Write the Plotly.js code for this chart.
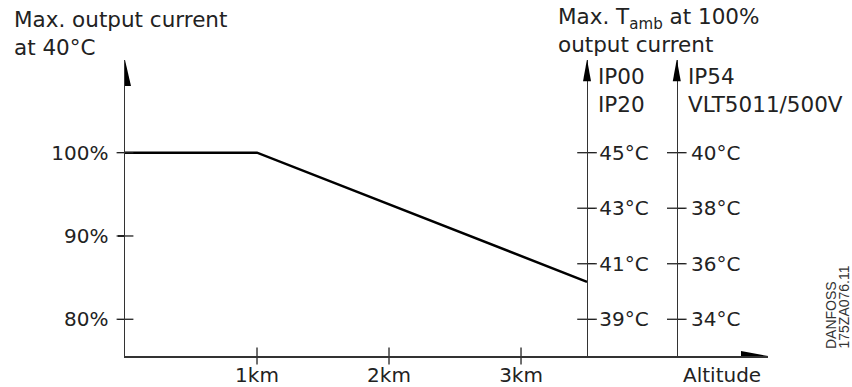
<!DOCTYPE html>
<html>
<head>
<meta charset="utf-8">
<script src="https://cdn.plot.ly/plotly-3.0.1.min.js"></script>
<style>
html,body{margin:0;padding:0;background:#fff;}
#chart{width:852px;height:387px;}
</style>
</head>
<body>
<div id="chart"></div>
<script>
// ---- data ----
const altitudeKm = [0, 1, 3.5];
const maxCurrentPct = [100, 100, 84.5];
const kmTicks = [1, 2, 3];
const kmLabels = ['1km', '2km', '3km'];
const pctTicks = [80, 90, 100];
const pctLabels = ['80%', '90%', '100%'];
const ip00Temps = [39, 41, 43, 45];
const ip00Labels = ['39°C', '41°C', '43°C', '45°C'];
const ip54Temps = [34, 36, 38, 40];
const ip54Labels = ['34°C', '36°C', '38°C', '40°C'];

// ---- layout geometry ----
const W = 852, H = 387;
const M = {l: 125, r: 84, t: 60, b: 31};
const PW = W - M.l - M.r, PH = H - M.t - M.b;
const X_MAX = 4.871;
const Y_MIN = 75.59, Y_MAX = 111.13;
const IP00_X = 3.5, IP54_X = 4.18;
const degPerPct = 0.3;
const tRange = (t80) => [t80 + (Y_MIN - 80) * degPerPct, t80 + (Y_MAX - 80) * degPerPct];

const px2x = (px) => (px - M.l) / PW;
const px2y = (py) => (M.t + PH - py) / PH;

const INK = '#222';
const AX = '#333';
const FONT = 'DejaVu Sans ExtraLight, DejaVu Sans, sans-serif';
const tf = {family: FONT, size: 20, color: INK};
const hf = {family: FONT, size: 21.5, color: INK};
const sf = {family: 'Liberation Sans, Arial, sans-serif', size: 14, color: '#333'};

const traces = [
  {x: altitudeKm, y: maxCurrentPct, type: 'scatter', mode: 'lines',
   line: {color: '#000', width: 2.5}, cliponaxis: false, hoverinfo: 'skip'},
  // crossing tick marks
  {x: kmTicks, y: kmTicks.map(() => Y_MIN), type: 'scatter', mode: 'markers', cliponaxis: false,
   marker: {symbol: 'line-ns', size: 12, line: {width: 1.3, color: INK}}},
  {x: pctTicks.map(() => 0), y: pctTicks, type: 'scatter', mode: 'markers', cliponaxis: false,
   marker: {symbol: 'line-ew', size: 12, line: {width: 1.3, color: INK}}},
  {x: ip00Temps.map(() => IP00_X), y: ip00Temps, yaxis: 'y2', type: 'scatter', mode: 'markers', cliponaxis: false,
   marker: {symbol: 'line-ew', size: 14, line: {width: 1.3, color: INK}}},
  {x: ip54Temps.map(() => IP54_X), y: ip54Temps, yaxis: 'y3', type: 'scatter', mode: 'markers', cliponaxis: false,
   marker: {symbol: 'line-ew', size: 14, line: {width: 1.3, color: INK}}}
];

const arrow = (xa, ya, path) => ({type: 'path', xref: 'x', yref: 'y',
  xsizemode: 'pixel', ysizemode: 'pixel', xanchor: xa, yanchor: ya, path: path,
  fillcolor: '#000', line: {width: 0}});

const layout = {
  width: W, height: H, margin: M,
  paper_bgcolor: '#fff', plot_bgcolor: '#fff',
  showlegend: false,
  font: tf,
  xaxis: {range: [0, X_MAX], showgrid: false, zeroline: false, showline: true, linecolor: AX, linewidth: 1.5,
          ticks: '', tickvals: kmTicks, ticktext: kmLabels, tickfont: tf},
  yaxis: {range: [Y_MIN, Y_MAX], showgrid: false, zeroline: false, showline: true, linecolor: AX, linewidth: 1.5,
          ticks: 'outside', ticklen: 6, tickwidth: 1.3, tickcolor: INK, ticklabelstandoff: 5,
          tickvals: pctTicks, ticktext: pctLabels, tickfont: tf},
  yaxis2: {overlaying: 'y', anchor: 'free', position: IP00_X / X_MAX, side: 'right', range: tRange(39),
           showgrid: false, zeroline: false, showline: true, linecolor: AX, linewidth: 1.2,
           ticks: 'outside', ticklen: 7, tickwidth: 1.3, tickcolor: INK,
           tickvals: ip00Temps, ticktext: ip00Labels, tickfont: tf},
  yaxis3: {overlaying: 'y', anchor: 'free', position: IP54_X / X_MAX, side: 'right', range: tRange(34),
           showgrid: false, zeroline: false, showline: true, linecolor: AX, linewidth: 1.2,
           ticks: 'outside', ticklen: 7, tickwidth: 1.3, tickcolor: INK, ticklabelstandoff: 2,
           tickvals: ip54Temps, ticktext: ip54Labels, tickfont: tf},
  shapes: [
    arrow(0, Y_MAX, 'M0,0 L-6,-26 L6,-26 Z'),
    arrow(IP00_X, Y_MAX + 0.1, 'M0,0 L-4,-22 L4,-22 Z'),
    arrow(IP54_X, Y_MAX + 0.1, 'M0,0 L-4,-22 L4,-22 Z'),
    arrow(X_MAX, Y_MIN, 'M0,0 L-27,5 L-27,-5 Z')
  ],
  annotations: [
    {xref: 'paper', yref: 'paper', x: px2x(12), y: px2y(5), xanchor: 'left', yanchor: 'top', align: 'left',
     showarrow: false, text: 'Max. output current<br>at 40°C', font: hf},
    {xref: 'paper', yref: 'paper', x: px2x(556), y: px2y(2), xanchor: 'left', yanchor: 'top', align: 'left',
     showarrow: false, text: 'Max. T<sub>amb</sub> at 100%<br>output current', font: hf},
    {xref: 'paper', yref: 'paper', x: px2x(596), y: px2y(62), xanchor: 'left', yanchor: 'top', align: 'left',
     showarrow: false, text: 'IP00<br>IP20', font: hf},
    {xref: 'paper', yref: 'paper', x: px2x(686), y: px2y(62), xanchor: 'left', yanchor: 'top', align: 'left',
     showarrow: false, text: 'IP54<br>VLT5011/500V', font: hf},
    {xref: 'paper', yref: 'paper', x: px2x(681), y: px2y(361), xanchor: 'left', yanchor: 'top', align: 'left',
     showarrow: false, text: 'Altitude', font: tf},
    {xref: 'paper', yref: 'paper', x: px2x(831), y: px2y(351), xanchor: 'center', yanchor: 'bottom', textangle: -90,
     showarrow: false, text: 'DANFOSS', font: sf},
    {xref: 'paper', yref: 'paper', x: px2x(843), y: px2y(351), xanchor: 'center', yanchor: 'bottom', textangle: -90,
     showarrow: false, text: '175ZA076.11', font: sf}
  ]
};

Plotly.newPlot('chart', traces, layout, {staticPlot: true, displayModeBar: false});
</script>
</body>
</html>
